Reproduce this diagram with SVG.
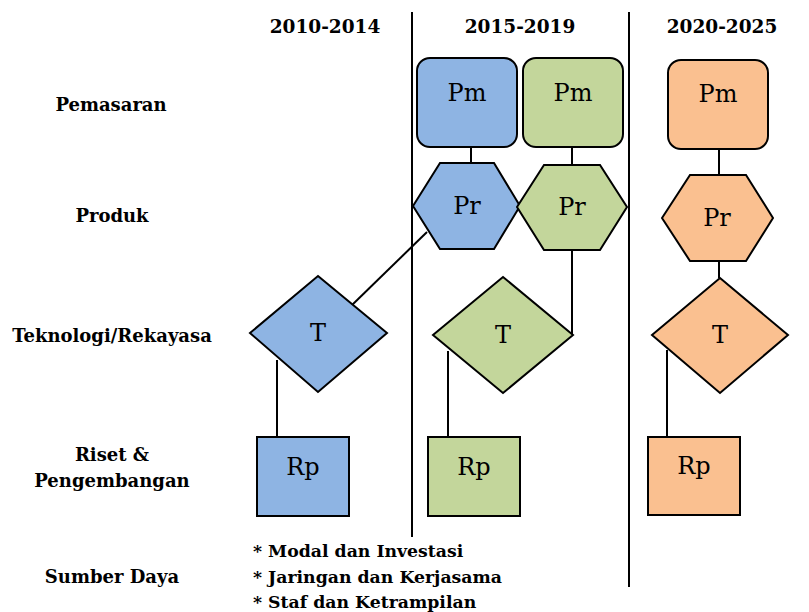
<svg xmlns="http://www.w3.org/2000/svg" width="809" height="612" viewBox="0 0 809 612">
<style>
.hdr{font-family:"DejaVu Serif","Liberation Serif",serif;font-weight:bold;font-size:18.5px;text-anchor:middle}
.lbl{font-family:"DejaVu Serif","Liberation Serif",serif;font-weight:bold;font-size:18px;text-anchor:middle}
.bul{font-family:"DejaVu Serif","Liberation Serif",serif;font-weight:bold;font-size:17.3px}
.nt{font-family:"DejaVu Serif","Liberation Serif",serif;font-size:24px;text-anchor:middle;dominant-baseline:central}
.n{stroke:#000;stroke-width:2}
.b{fill:#8EB4E3}.g{fill:#C3D69B}.o{fill:#FAC090}
.c{stroke:#000;stroke-width:2;fill:none}
.div{stroke:#000;stroke-width:2}
</style>
<rect width="809" height="612" fill="#fff"/>
<g id="dividers">
<line class="div" x1="412" y1="12" x2="412" y2="537"/>
<line class="div" x1="629" y1="12" x2="629" y2="587"/>
</g>
<g id="headers">
<text class="hdr" x="325" y="33">2010-2014</text>
<text class="hdr" x="520" y="33">2015-2019</text>
<text class="hdr" x="722" y="33">2020-2025</text>
</g>
<g id="row-labels">
<text class="lbl" x="111" y="111">Pemasaran</text>
<text class="lbl" x="112" y="222">Produk</text>
<text class="lbl" x="112" y="342">Teknologi/Rekayasa</text>
<text class="lbl" x="112" y="461">Riset &amp;</text>
<text class="lbl" x="112" y="487">Pengembangan</text>
<text class="lbl" x="112" y="583">Sumber Daya</text>
</g>
<g id="resources">
<text class="bul" x="253" y="557">* Modal dan Investasi</text>
<text class="bul" x="253" y="583">* Jaringan dan Kerjasama</text>
<text class="bul" x="253" y="608">* Staf dan Ketrampilan</text>
</g>
<g id="connectors">
<line class="c" x1="471" y1="147" x2="471" y2="163"/>
<line class="c" x1="572" y1="147" x2="572" y2="165"/>
<line class="c" x1="719" y1="149" x2="719" y2="175"/>
<line class="c" x1="719" y1="261" x2="719" y2="278"/>
<line class="c" x1="427" y1="232" x2="351" y2="306"/>
<line class="c" x1="572" y1="250" x2="572" y2="335"/>
<line class="c" x1="277" y1="360" x2="277" y2="437"/>
<line class="c" x1="448" y1="351" x2="448" y2="437"/>
<line class="c" x1="667" y1="350" x2="667" y2="437"/>
</g>
<g id="pm-2015-blue"><rect class="n b" x="417" y="58" width="100" height="89" rx="13"/><text class="nt" x="467" y="93">Pm</text></g>
<g id="pm-2015-green"><rect class="n g" x="523" y="58" width="100" height="89" rx="13"/><text class="nt" x="573" y="93">Pm</text></g>
<g id="pm-2020"><rect class="n o" x="668" y="60" width="100" height="89" rx="13"/><text class="nt" x="718" y="94">Pm</text></g>
<g id="pr-2015-blue"><polygon class="n b" points="413,206 440,163 494,163 520,206 494,249 440,249"/><text class="nt" x="467" y="206">Pr</text></g>
<g id="pr-2015-green"><polygon class="n g" points="517,207 544,165 600,165 627,207 600,250 544,250"/><text class="nt" x="572" y="207">Pr</text></g>
<g id="pr-2020"><polygon class="n o" points="662,218 690,175 746,175 773,218 746,261 690,261"/><text class="nt" x="717" y="218">Pr</text></g>
<g id="t-2010"><polygon class="n b" points="318,276 387,333 318,392 250,333"/><text class="nt" x="318" y="333">T</text></g>
<g id="t-2015"><polygon class="n g" points="503,277 573,335 503,393 433,335"/><text class="nt" x="503" y="335">T</text></g>
<g id="t-2020"><polygon class="n o" points="720,278 788,335 720,393 652,335"/><text class="nt" x="720" y="335">T</text></g>
<g id="rp-2010"><rect class="n b" x="257" y="437" width="92" height="79"/><text class="nt" x="303" y="467">Rp</text></g>
<g id="rp-2015"><rect class="n g" x="428" y="437" width="92" height="79"/><text class="nt" x="474" y="467">Rp</text></g>
<g id="rp-2020"><rect class="n o" x="648" y="437" width="92" height="78"/><text class="nt" x="694" y="466">Rp</text></g>
</svg>
